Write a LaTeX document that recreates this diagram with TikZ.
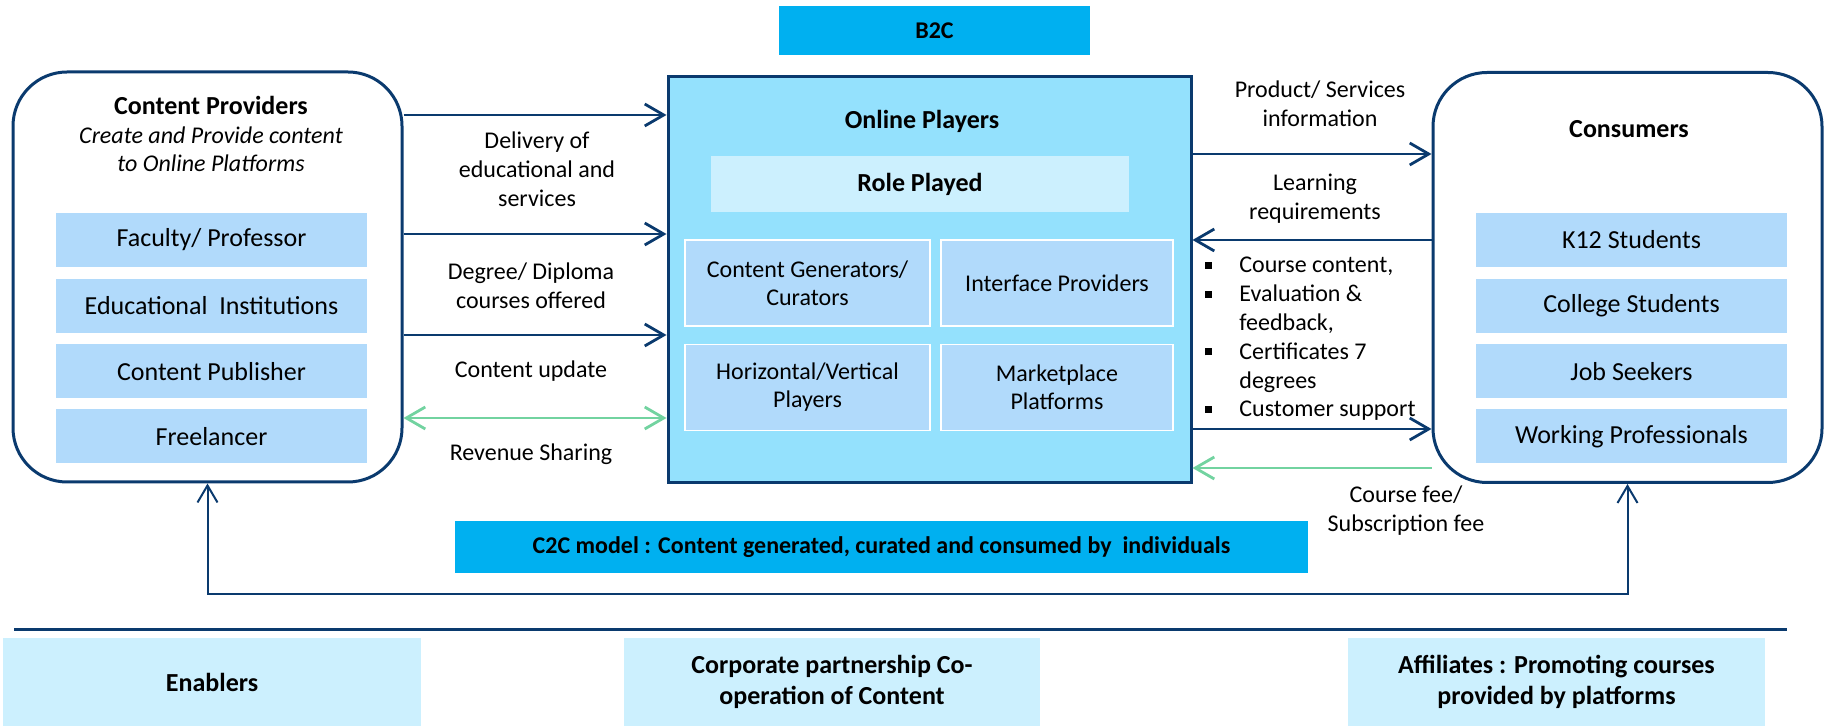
\documentclass[tikz,border=0pt]{standalone}
\usepackage{fontspec}
\setmainfont{Carlito}
\usetikzlibrary{arrows.meta}

\definecolor{navy}{RGB}{10,58,110}
\definecolor{mint}{RGB}{114,211,160}
\definecolor{cyanbar}{RGB}{0,176,240}
\definecolor{playerfill}{RGB}{148,225,253}
\definecolor{itemfill}{RGB}{177,218,251}
\definecolor{palefill}{RGB}{204,240,254}
\newcommand{\sqbul}{\llap{\raisebox{2pt}{\rule{3.5pt}{3.5pt}}\hspace{13.75pt}}}

\tikzset{
  partybox/.style={draw=navy, line width=1.5pt, rounded corners=27pt,
    minimum width=194.5pt, minimum height=205pt},
  listitem/.style={fill=itemfill, inner sep=0pt, minimum width=155.5pt,
    minimum height=27pt, font=\fontsize{13}{15.8}\selectfont},
  rolecell/.style={fill=itemfill, draw=white, line width=0.6pt, inner sep=0pt,
    minimum height=43pt, align=center, font=\fontsize{12}{14}\selectfont},
  banner/.style={fill=cyanbar, inner sep=0pt, font=\bfseries\fontsize{12}{14.6}\selectfont},
  palebox/.style={fill=palefill, inner sep=0pt, align=center,
    font=\bfseries\fontsize{13}{15.5}\selectfont},
  heading/.style={inner sep=0pt, font=\bfseries\fontsize{13}{15.8}\selectfont},
  flowlabel/.style={inner sep=0pt, align=center, font=\fontsize{12}{14.6}\selectfont},
  flowarr/.style={draw=navy, line width=1.4pt, ->},
  feearr/.style={draw=mint, line width=1.4pt, ->},
}

\begin{document}
\begin{tikzpicture}[x=0.5pt, y=-0.5pt, >={Straight Barb[length=9.5pt,width=11pt]}]
  \useasboundingbox (0,0) rectangle (1825,726);

  % content providers
  \node[partybox] at (207.5,277) (prov) {};
  \node[heading] at (211,105) (provtitle) {Content Providers};
  \node[flowlabel, font=\itshape\fontsize{12}{14}\selectfont] at (211,149) (provnote)
    {Create and Provide content\\to Online Platforms};
  \node[listitem] at (211.5,240) (fac) {Faculty/ Professor};
  \node[listitem] at (211.5,306) (inst) {Educational\ \ Institutions};
  \node[listitem] at (211.5,371.5) (pub) {Content Publisher};
  \node[listitem] at (211.5,436.5) (free) {Freelancer};

  % online players
  \node[banner, minimum width=155.5pt, minimum height=24.5pt] at (934.5,30.5) (b2c) {B2C};
  \node[draw=navy, line width=1.5pt, fill=playerfill, minimum width=261.5pt,
    minimum height=203pt] at (929.5,280) (online) {};
  \node[heading] at (922,121) (onlinetitle) {Online Players};
  \node[palebox, minimum width=209pt, minimum height=28pt] at (920,184) (role) {Role Played};
  \node[rolecell, minimum width=122.5pt] at (807.5,283) (gen) {Content Generators/\\Curators};
  \node[rolecell, minimum width=116pt] at (1057,283) (iface) {Interface Providers};
  \node[rolecell, minimum width=122.5pt] at (807.5,387.5) (horiz) {Horizontal/Vertical\\Players};
  \node[rolecell, minimum width=116pt] at (1057,387.5) (market) {Marketplace\\Platforms};

  % consumers
  \node[partybox] at (1627.5,277.5) (cons) {};
  \node[heading] at (1629,129) (constitle) {Consumers};
  \node[listitem] at (1631.5,240) (k12) {K12 Students};
  \node[listitem] at (1631.5,306) (college) {College Students};
  \node[listitem] at (1631.5,371.5) (job) {Job Seekers};
  \node[listitem] at (1631.5,436.5) (work) {Working Professionals};

  % flows between providers and players
  \draw[flowarr] (prov.east |- 0,115) -- (online.west |- 0,115);
  \draw[flowarr] (prov.east |- 0,234) -- (online.west |- 0,234);
  \draw[flowarr] (prov.east |- 0,335) -- (online.west |- 0,335);
  \draw[feearr, <->] (prov.east |- 0,418) -- (online.west |- 0,418);
  \node[flowlabel] at (537,169) (deliv) {Delivery of\\educational and\\services};
  \node[flowlabel] at (531,286) (degree) {Degree/ Diploma\\courses offered};
  \node[flowlabel] at (531,371) (update) {Content update};
  \node[flowlabel] at (531,454) (revenue) {Revenue Sharing};

  % flows between players and consumers
  \draw[flowarr] (online.east |- 0,154) -- (cons.west |- 0,154);
  \draw[flowarr] (cons.west |- 0,240) -- (online.east |- 0,240);
  \draw[flowarr] (online.east |- 0,429) -- (cons.west |- 0,429);
  \draw[feearr] (cons.west |- 0,468) -- (online.east |- 0,468);
  \node[flowlabel] at (1320,104) (info) {Product/ Services\\information};
  \node[flowlabel] at (1315,199) (learn) {Learning\\requirements};
  \node[flowlabel, align=left, anchor=west, font=\fontsize{12}{14.4}\selectfont] at (1239,339) (support)
    {\sqbul Course content,\\\sqbul Evaluation \&\\feedback,\\\sqbul Certificates 7\\degrees\\\sqbul Customer support};
  \node[flowlabel] at (1406,511) (fee) {Course fee/\\Subscription fee};

  % c2c loop
  \node[banner, minimum width=426.5pt, minimum height=26pt] at (881.5,547) (c2c)
    {C2C model : Content generated, curated and consumed by\ \ individuals};
  \coordinate (loop) at (918,594);
  \draw[flowarr, <->, line width=1pt, >={Straight Barb[length=8.5pt,width=10pt]}]
    (prov.south) |- (loop) -| (cons.south);

  % bottom row
  \draw[navy, line width=1.5pt] (14,629) -- (1787,629);
  \node[palebox, minimum width=209pt, minimum height=44pt] at (212,682) (enab) {Enablers};
  \node[palebox, minimum width=208pt, minimum height=44pt] at (832,682) (corp)
    {Corporate partnership Co-\\operation of Content};
  \node[palebox, minimum width=208.5pt, minimum height=44pt] at (1556.5,682) (affil)
    {Affiliates : Promoting courses\\provided by platforms};
\end{tikzpicture}
\end{document}
